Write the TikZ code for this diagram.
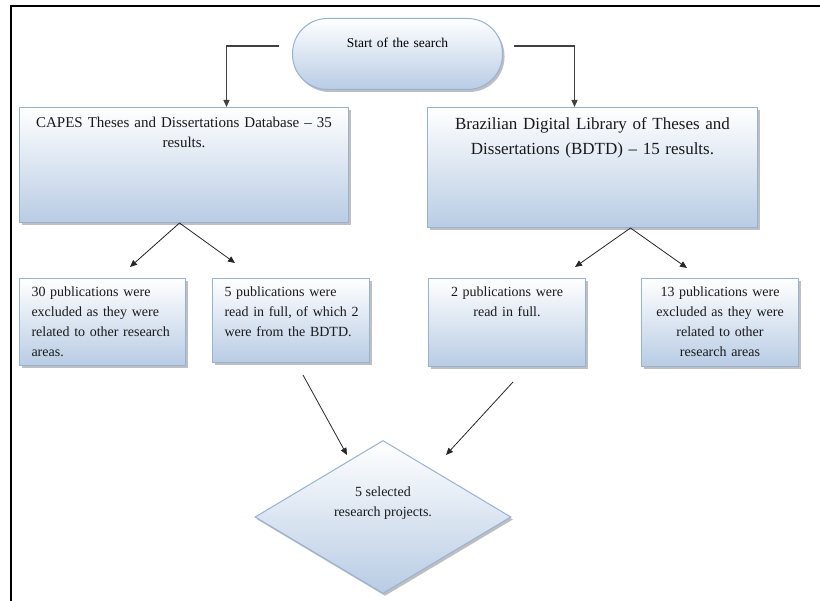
\documentclass[tikz,border=0pt]{standalone}
\usepackage{fontspec}
\setmainfont{Liberation Serif}
\usetikzlibrary{arrows.meta,shapes.geometric,shadows}
\definecolor{boxedge}{RGB}{149,179,215}
\definecolor{boxbot}{RGB}{184,204,228}
\definecolor{shad}{RGB}{140,140,140}
\begin{document}
\begin{tikzpicture}[x=1pt,y=-1pt,
  shaded/.style={draw=boxedge, line width=1pt, top color=white, bottom color=boxbot,
    drop shadow={shadow xshift=2pt, shadow yshift=-2.5pt, fill=shad, opacity=0.55}},
  box/.style={shaded, anchor=north west, inner ysep=0pt, text=black!90},
  small/.style={box, font=\fontsize{14}{20}\selectfont, text height=18pt},
  arr/.style={-{Triangle[length=7pt,width=6pt]}, line width=0.8pt, draw=black!85},
  toparr/.style={arr, line width=1.2pt, draw=black!75},
  txt/.style={font=\fontsize{14}{20}\selectfont, align=center, text=black!90, inner sep=0pt}
]
\useasboundingbox (0,0) rectangle (820,601);
\fill[white] (0,0) rectangle (820,601);
% frame
\draw[line width=2pt] (11,601) -- (11,6) -- (820,6);

% start
\node[shaded, anchor=north west, rounded corners=35pt, inner xsep=5pt, inner ysep=0pt,
  text width=200pt, align=center, text height=29pt, text depth=42pt,
  font=\fontsize{13.5}{16}\selectfont] (start) at (292,18) {Start of the search};

% databases
\node[box, inner xsep=4pt, text width=321pt, align=center, text height=20pt, text depth=95pt,
  font=\fontsize{15}{20}\selectfont] (capes) at (19,107)
  {CAPES Theses and Dissertations Database – 35\\results.};
\node[box, inner xsep=4pt, text width=322pt, align=center, text height=22pt, text depth=98pt,
  font=\fontsize{17}{25}\selectfont] (bdtd) at (427,107)
  {Brazilian Digital Library of Theses and\\Dissertations (BDTD) – 15 results.};

% publications
\node[small, inner xsep=12pt, text width=142pt, align=left, text depth=69pt] (pub1) at (19,278)
  {\makebox[142pt][s]{30 publications were}\\
   \makebox[142pt][s]{excluded as they were}\\
   \makebox[142pt][s]{related to other research}\\
   areas.};
\node[small, inner xsep=12pt, text width=133pt, align=left, text depth=66pt] (pub2) at (212,278)
  {\makebox[133pt][s]{5 publications were}\\
   \makebox[133pt][s]{read in full, of which 2}\\
   were from the BDTD.};
\node[small, inner xsep=8pt, text width=141pt, align=center, text depth=70pt] (pub3) at (428,278)
  {2 publications were\\read in full.};
\node[small, inner xsep=8pt, text width=141pt, align=center, text depth=70pt] (pub4) at (641,278)
  {13 publications were\\excluded as they were\\related to other\\research areas};

% result
\node[shaded, diamond, minimum width=256pt, minimum height=153pt, inner sep=0pt] (sel) at (383,517) {};
\node[txt] (selt) at (383,503) {5 selected\\research projects.};

% connectors
\coordinate (sl) at (279,46);
\coordinate (sr) at (514,46);
\draw[toparr] (sl) -| ([xshift=42.5pt]capes.north);
\draw[toparr] (sr) -| ([xshift=-18pt]bdtd.north);

\coordinate (t1) at (130,267);
\coordinate (t2) at (235,263);
\coordinate (t3) at (575,267);
\coordinate (t4) at (687,268);
\draw[arr] ([xshift=-4.5pt]capes.south) -- (t1);
\draw[arr] ([xshift=-4.5pt]capes.south) -- (t2);
\draw[arr] ([xshift=38pt]bdtd.south) -- (t3);
\draw[arr] ([xshift=38pt]bdtd.south) -- (t4);

\coordinate (s5) at (303,375);
\coordinate (t5) at (347,455);
\coordinate (s6) at (513,382);
\coordinate (t6) at (446,455);
\draw[arr] (s5) -- (t5);
\draw[arr] (s6) -- (t6);
\end{tikzpicture}
\end{document}
